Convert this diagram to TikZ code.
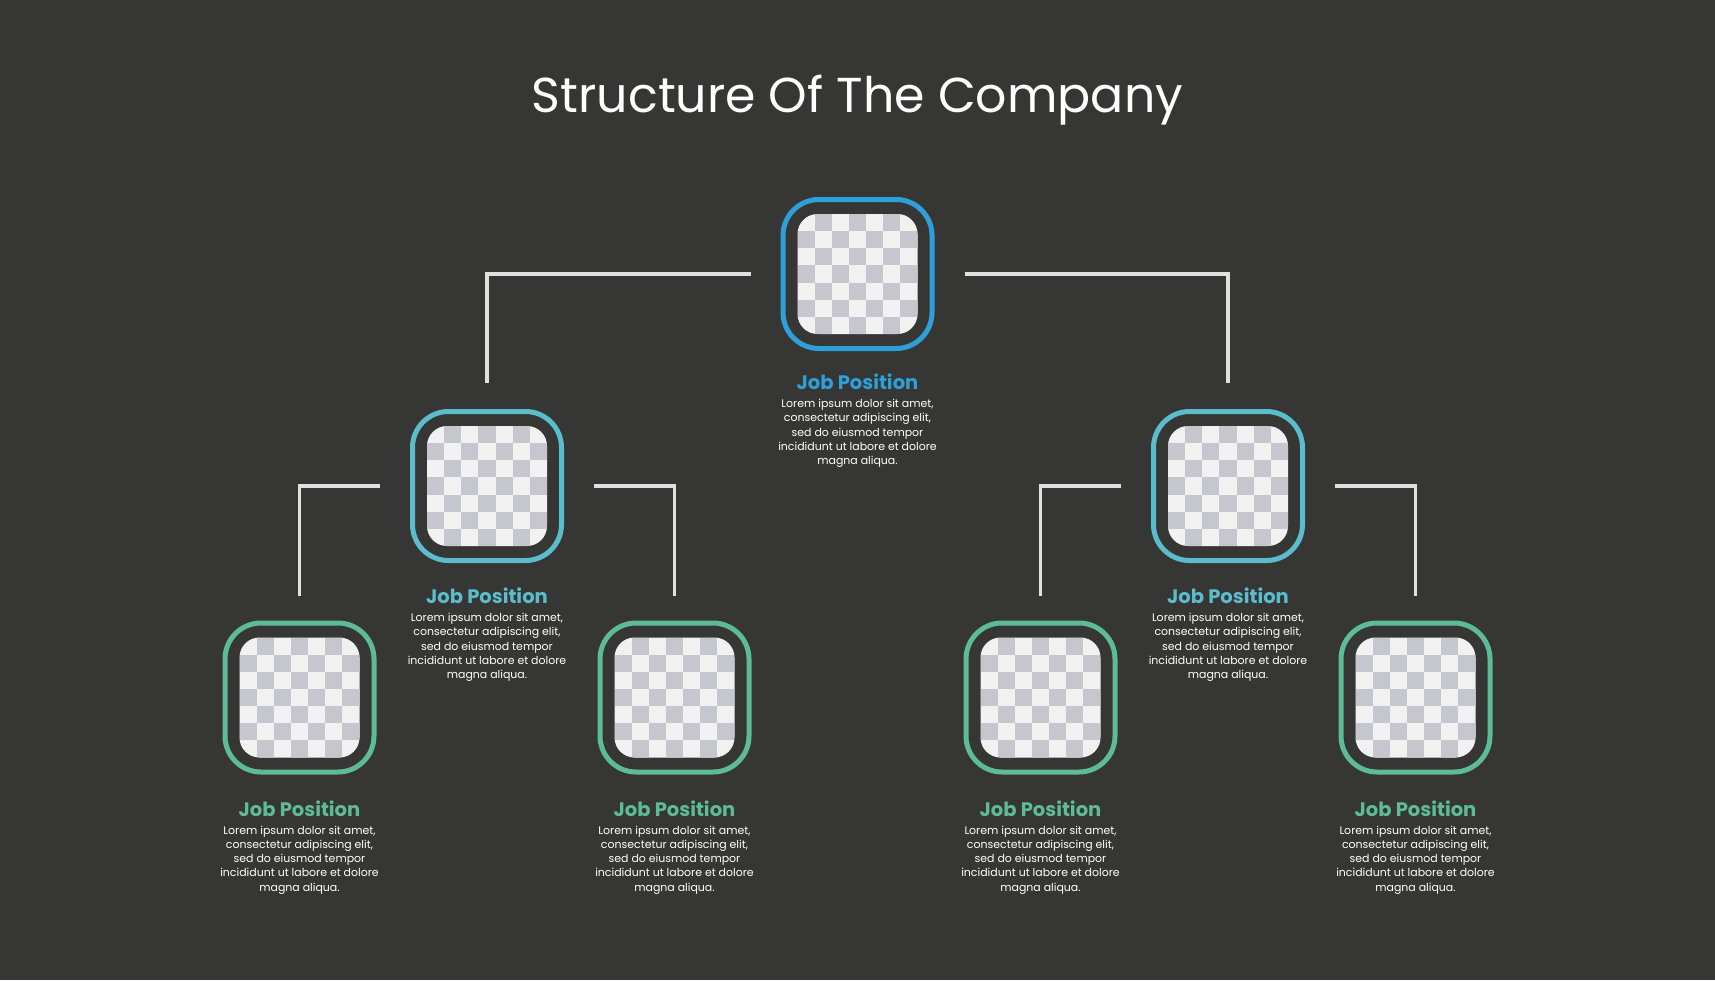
\documentclass[tikz,border=0pt]{standalone}
\usepackage{fontspec}
\setmainfont{Poppins}
\usetikzlibrary{positioning}

\definecolor{bgdark}{HTML}{363735}
\definecolor{topblue}{HTML}{2E9FD9}
\definecolor{midcyan}{HTML}{5BBCCC}
\definecolor{botgreen}{HTML}{5DBB98}
\definecolor{linegrey}{HTML}{E0E0E0}
\definecolor{chkgrey}{HTML}{C6C6CE}
\definecolor{chklight}{HTML}{F1F1F1}

\newcommand{\loremtext}{Lorem ipsum dolor sit amet,\\consectetur adipiscing elit,\\sed do eiusmod tempor\\incididunt ut labore et dolore\\magna aliqua.}

\tikzset{
maintitle/.style={
  text=white,
  font=\fontsize{49.2}{56}\selectfont,
  inner sep=0pt
},
picframe/.style={
  line width=5bp,
  rounded corners=36bp,
  minimum size=149bp,
  inner sep=0pt
},
photobox/.style={
  fill=chklight,
  rounded corners=20bp,
  minimum size=120bp,
  inner sep=0pt,
  path picture={
    \foreach \i in {0,...,6}{
      \foreach \j in {0,...,6}{
        \pgfmathtruncatemacro\k{\i+\j}
        \ifodd\k
          \fill[chkgrey, sharp corners] ([shift={(\i*120/7,\j*120/7)}]path picture bounding box.north west) rectangle +(120/7,120/7);
        \fi
      }
    }
  }
},
jobname/.style={
  font=\fontsize{19.6}{22}\selectfont\bfseries,
  inner sep=0pt
},
jobtext/.style={
  text=white,
  align=center,
  font=\fontsize{11}{14.3}\selectfont,
  inner sep=0pt
},
orgline/.style={
  draw=linegrey,
  line width=3.5bp
}
}

\begin{document}
\begin{tikzpicture}[x=1bp, y=-1bp, node distance=25bp]

\fill[bgdark] (0,0) rectangle (1715,980);
\useasboundingbox (0,0) rectangle (1715,980);

\node[maintitle] (title) at (857.5,100.5) {Structure Of The Company};

% picture frames
\node[picframe, draw=topblue] (head) at (857.5,274) {};
\node[picframe, draw=midcyan] (leadL) at (487,486) {};
\node[picframe, draw=midcyan] (leadR) at (1228,486) {};
\node[picframe, draw=botgreen] (staffLL) at (299.5,697.5) {};
\node[picframe, draw=botgreen] (staffLR) at (674.5,697.5) {};
\node[picframe, draw=botgreen] (staffRL) at (1040.5,697.5) {};
\node[picframe, draw=botgreen] (staffRR) at (1415.5,697.5) {};

\foreach \n in {head,leadL,leadR,staffLL,staffLR,staffRL,staffRR}
  \node[photobox] (\n-pic) at (\n) {};

% names and texts
\node[jobname, text=topblue, below=23bp of head] (head-name) {Job Position};
\node[jobtext, below=9bp of head-name] (head-text) {\loremtext};
\foreach \n in {leadL,leadR}{
  \node[jobname, text=midcyan, below=of \n] (\n-name) {Job Position};
  \node[jobtext, below=9bp of \n-name] (\n-text) {\loremtext};
}
\foreach \n in {staffLL,staffLR,staffRL,staffRR}{
  \node[jobname, text=botgreen, below=26bp of \n] (\n-name) {Job Position};
  \node[jobtext, below=9bp of \n-name] (\n-text) {\loremtext};
}

% connectors
\draw[orgline] ([xshift=-30bp]head.west) -| ([yshift=26bp]leadL.north);
\draw[orgline] ([xshift=30bp]head.east) -| ([yshift=26bp]leadR.north);
\draw[orgline] ([xshift=-30bp]leadL.west) -| ([yshift=25bp]staffLL.north);
\draw[orgline] ([xshift=30bp]leadL.east) -| ([yshift=25bp]staffLR.north);
\draw[orgline] ([xshift=-30bp]leadR.west) -| ([yshift=25bp]staffRL.north);
\draw[orgline] ([xshift=30bp]leadR.east) -| ([yshift=25bp]staffRR.north);

\end{tikzpicture}
\end{document}
